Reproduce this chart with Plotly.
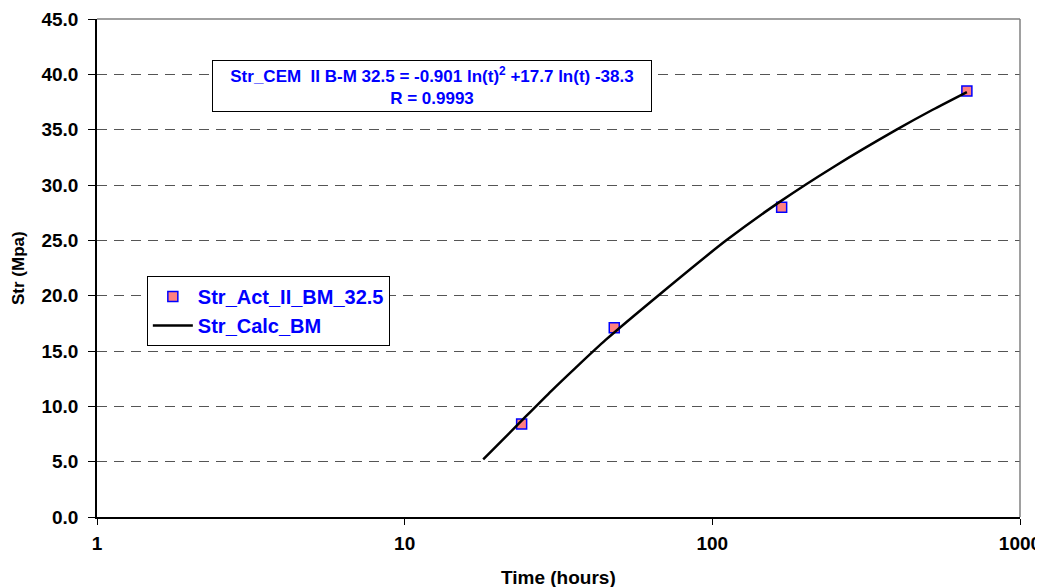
import plotly.graph_objects as go

# Measured data (hours vs strength MPa)
time_act = [24, 48, 168, 672]
str_act = [8.4, 17.1, 28.0, 38.5]

# Calculated curve
time_calc = [18, 24, 30, 36, 45, 68, 111, 166, 250, 397, 520, 672]
str_calc = [5.2, 8.7, 11.4, 13.5, 16.0, 20.2, 25.0, 28.5, 31.7, 35.0, 36.8, 38.4]

y_ticks = [0, 5, 10, 15, 20, 25, 30, 35, 40, 45]
x_ticks = [1, 10, 100, 1000]

FONT = "Liberation Sans"

fig = go.Figure()
fig.add_trace(go.Scatter(
    x=time_act, y=str_act, mode="markers", name="<b>Str_Act_II_BM_32.5</b>",
    marker=dict(symbol="square", size=10, color="#FF8080",
                line=dict(color="#0000FF", width=1.5)),
))
fig.add_trace(go.Scatter(
    x=time_calc, y=str_calc, mode="lines", name="<b>Str_Calc_BM</b>",
    line=dict(color="black", width=2.5, shape="spline", smoothing=0.6),
))

# page body has an 8px margin, so the figure is offset by 8px
fig.update_layout(
    width=1035, height=579,
    margin=dict(l=89, r=23, t=11, b=70, autoexpand=False),
    paper_bgcolor="white", plot_bgcolor="white",
    font=dict(family=FONT, size=15, color="black"),
    showlegend=True,
    legend=dict(
        x=0.054, y=0.484, xanchor="left", yanchor="top",
        bgcolor="white", bordercolor="black", borderwidth=1,
        font=dict(family=FONT, size=20, color="#0000FF"),
        tracegroupgap=0, itemwidth=40,
    ),
    annotations=[
        dict(
            text="<b>Str_CEM  II B-M 32.5 = -0.901 ln(t)<sup>2</sup> +17.7 ln(t) -38.3<br>R = 0.9993</b>",
            xref="paper", yref="paper", x=0.363, y=0.8645,
            xanchor="center", yanchor="middle", showarrow=False,
            font=dict(family=FONT, size=17, color="#0000FF"),
            bgcolor="white", bordercolor="black", borderwidth=1, borderpad=3,
            align="center", width=432,
        ),
        dict(
            text="<b>Str (Mpa)</b>", textangle=-90,
            xref="paper", yref="paper", x=0, y=0.5, xshift=-79,
            xanchor="center", yanchor="middle", showarrow=False,
            font=dict(family=FONT, size=17, color="black"),
        ),
        dict(
            text="<b>Time (hours)</b>",
            xref="paper", yref="paper", x=0.5, y=0, yshift=-60,
            xanchor="center", yanchor="middle", showarrow=False,
            font=dict(family=FONT, size=19, color="black"),
        ),
    ],
)

fig.update_xaxes(
    type="log", range=[0, 3], automargin=False,
    tickvals=x_ticks, ticktext=[f"<b>{v}</b>" for v in x_ticks],
    ticks="outside", ticklen=6, tickcolor="black", ticklabelstandoff=2,
    showline=True, linecolor="black", linewidth=1.5, mirror=False,
    showgrid=False, zeroline=False,
    tickfont=dict(family=FONT, size=19),
)
fig.update_yaxes(
    range=[0, 45], tickvals=y_ticks, ticktext=[f"<b>{v:.1f}</b>" for v in y_ticks],
    automargin=False,
    ticks="outside", ticklen=7, tickcolor="black", ticklabelstandoff=6,
    showline=True, linecolor="black", linewidth=1.5,
    showgrid=True, gridcolor="#555555", griddash="10px,7px", gridwidth=1,
    zeroline=False,
    tickfont=dict(family=FONT, size=19),
)

# gray top and right frame lines
fig.add_shape(type="line", xref="paper", yref="paper", x0=0, x1=1, y0=1, y1=1,
              line=dict(color="#808080", width=1.5))
fig.add_shape(type="line", xref="paper", yref="paper", x0=1, x1=1, y0=0, y1=1,
              line=dict(color="#808080", width=1.5))

fig.write_html("out.html")
